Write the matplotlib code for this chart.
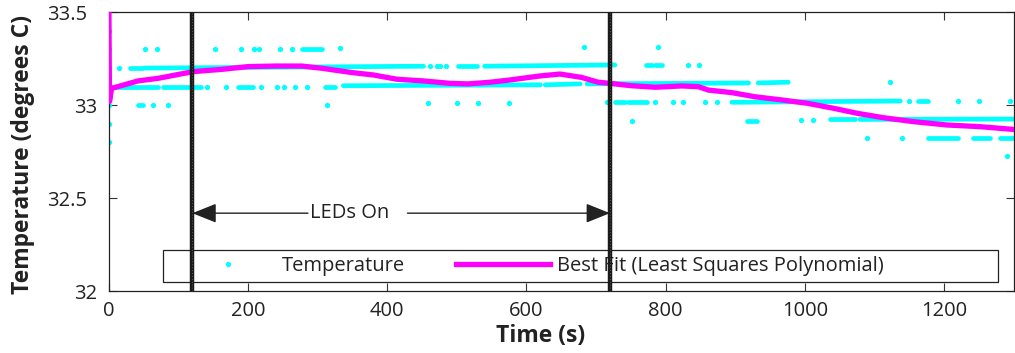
import matplotlib
matplotlib.use('Agg')
import matplotlib.pyplot as plt
from matplotlib.patches import Rectangle
from matplotlib.transforms import ScaledTranslation

plt.rcParams['font.family'] = ['Open Sans', 'DejaVu Sans']

CYAN = '#00FFFF'
MAGENTA = '#FF00FF'

# single temperature readings (time s, degrees C)
dot_t = [0, 0, 0, 0, 0, 0, 0,
         52, 69, 153, 190, 209, 216, 246, 263, 332, 683, 789,
         15, 461, 471, 476, 484, 832, 848,
         141, 169, 219, 241, 252, 268, 285, 1122,
         64, 85, 313, 459, 500, 531, 575, 716, 785, 811, 825, 857, 874,
         1150, 1220, 1250, 1295,
         752, 995, 1011,
         1089, 1139,
         1290]
dot_T = [33.40, 33.30, 33.20, 33.10, 33.00, 32.90, 32.80,
         33.30, 33.30, 33.30, 33.30, 33.30, 33.30, 33.30, 33.30, 33.31, 33.315, 33.315,
         33.20, 33.21, 33.21, 33.21, 33.21, 33.217, 33.217,
         33.10, 33.10, 33.10, 33.10, 33.10, 33.10, 33.10, 33.124,
         33.00, 33.00, 33.00, 33.01, 33.01, 33.01, 33.01, 33.016, 33.016, 33.016, 33.016, 33.016, 33.016,
         33.023, 33.023, 33.023, 33.023,
         32.916, 32.922, 32.922,
         32.826, 32.826,
         32.727]

# stretches where consecutive readings sit on the same level
run_t0 = [277, 30, 50, 501, 540, 771, 785,
          0, 78, 185, 311, 337, 627, 687, 933,
          42, 727, 746, 895, 1163,
          917, 1036, 1079,
          1177, 1242, 1280]
run_t1 = [306, 47, 452, 529, 727, 781, 795,
          71, 133, 207, 325, 620, 677, 919, 976,
          49, 742, 773, 1137, 1177,
          931, 1072, 1300,
          1220, 1266, 1300]
run_T0 = [33.30, 33.20, 33.20, 33.21, 33.21, 33.217, 33.217,
          33.10, 33.10, 33.10, 33.10, 33.105, 33.11, 33.115, 33.12,
          33.00, 33.016, 33.016, 33.016, 33.023,
          32.918, 32.924, 32.924,
          32.826, 32.826, 32.826]
run_T1 = [33.30, 33.20, 33.21, 33.21, 33.217, 33.217, 33.217,
          33.10, 33.10, 33.10, 33.10, 33.11, 33.115, 33.12, 33.124,
          33.00, 33.016, 33.016, 33.023, 33.023,
          32.918, 32.924, 32.926,
          32.826, 32.826, 32.826]

# least squares fit curve
fit_t = [0, 1, 4, 42, 71, 121, 162, 200, 239, 277, 306, 347, 380, 414, 452, 490,
         516, 548, 576, 620, 648, 679, 703, 720, 751, 785, 823, 847, 861, 895,
         928, 964, 1003, 1041, 1075, 1113, 1156, 1204, 1252, 1300]
fit_T = [33.6, 33.02, 33.091, 33.131, 33.145, 33.181, 33.193, 33.208, 33.211, 33.211,
         33.199, 33.177, 33.163, 33.140, 33.131, 33.118, 33.115, 33.124, 33.136, 33.158,
         33.168, 33.150, 33.124, 33.118, 33.105, 33.097, 33.104, 33.100, 33.082, 33.068,
         33.046, 33.030, 33.011, 32.984, 32.957, 32.933, 32.912, 32.894, 32.885, 32.870]

led_on, led_off = 120, 720
arrow_T = 32.42

fig = plt.figure(figsize=(10.15, 3.53), dpi=100)
ax = fig.add_axes([0.1072, 0.1748, 0.8916, 0.7904])

ax.plot(dot_t, dot_T, 'o', color=CYAN, ms=3.8, mew=0, label='Temperature', zorder=2)
for t0, t1, T0, T1 in zip(run_t0, run_t1, run_T0, run_T1):
    ax.plot([t0, t1], [T0, T1], color=CYAN, lw=3.4, solid_capstyle='round', zorder=2)

ax.plot(fit_t, fit_T, color=MAGENTA, lw=3.8, label='Best Fit (Least Squares Polynomial)',
        solid_joinstyle='round', zorder=3)

# LEDs on / off markers
for tv in (led_on, led_off):
    ax.axvline(tv, color='#1a1a1a', lw=3.2, zorder=6)
    ax.axvline(tv, color='#5a5a5a', lw=0.7, ls=(0, (1, 2)), zorder=7)

arrow_kw = dict(arrowstyle='-|>,head_length=15,head_width=6', color='#222222',
                lw=1.0, shrinkA=0, shrinkB=0, mutation_scale=1)
ax.annotate('', xy=(led_on, arrow_T), xytext=(286, arrow_T), arrowprops=arrow_kw, zorder=5)
ax.annotate('', xy=(led_off, arrow_T), xytext=(429, arrow_T), arrowprops=arrow_kw, zorder=5)
ax.text(289, arrow_T, 'LEDs On', fontsize=14.5, color='#222222', ha='left', va='center')

ax.set_xlim(0, 1300)
ax.set_ylim(32, 33.5)
ax.set_xticks([0, 200, 400, 600, 800, 1000, 1200])
ax.set_yticks([32, 32.5, 33, 33.5])
ax.set_yticklabels(['32', '32.5', '33', '33.5'])
ax.tick_params(direction='in', length=5.8, width=0.8, color='#333333',
               top=True, right=True, labelsize=14.5, labelcolor='#222222')
ax.tick_params(axis='y', pad=8.5)
ax.tick_params(axis='x', pad=7)
for sp in ax.spines.values():
    sp.set_color('#222222')
    sp.set_linewidth(0.9)

for lbl in ax.get_yticklabels():
    if '.' in lbl.get_text():
        lbl.set_transform(lbl.get_transform() + ScaledTranslation(-0.10, 0, fig.dpi_scale_trans))

ax.set_xlabel('Time (s)', fontsize=16.5, fontweight='bold', color='#222222')
ax.set_ylabel('Temperature (degrees C)', fontsize=16.5, fontweight='bold', color='#222222')
ax.xaxis.set_label_coords(0.4775, -0.117)
ax.yaxis.set_label_coords(-0.0815, 0.49)

# legend box
ax.add_patch(Rectangle((0.0599, 0.0344), 0.9227, 0.1136, transform=ax.transAxes,
                       facecolor='white', edgecolor='#222222', lw=0.9, zorder=4.5))
leg = ax.legend(loc='center', bbox_to_anchor=(0.468, 0.0907), ncol=2, frameon=False,
                fontsize=14.5, numpoints=1, handlelength=4.67, handletextpad=0.35,
                columnspacing=2.53, borderpad=0.0)
leg.set_zorder(5)
for txt in leg.get_texts():
    txt.set_color('#222222')

fig.savefig('out.png', dpi=100, facecolor='white')
